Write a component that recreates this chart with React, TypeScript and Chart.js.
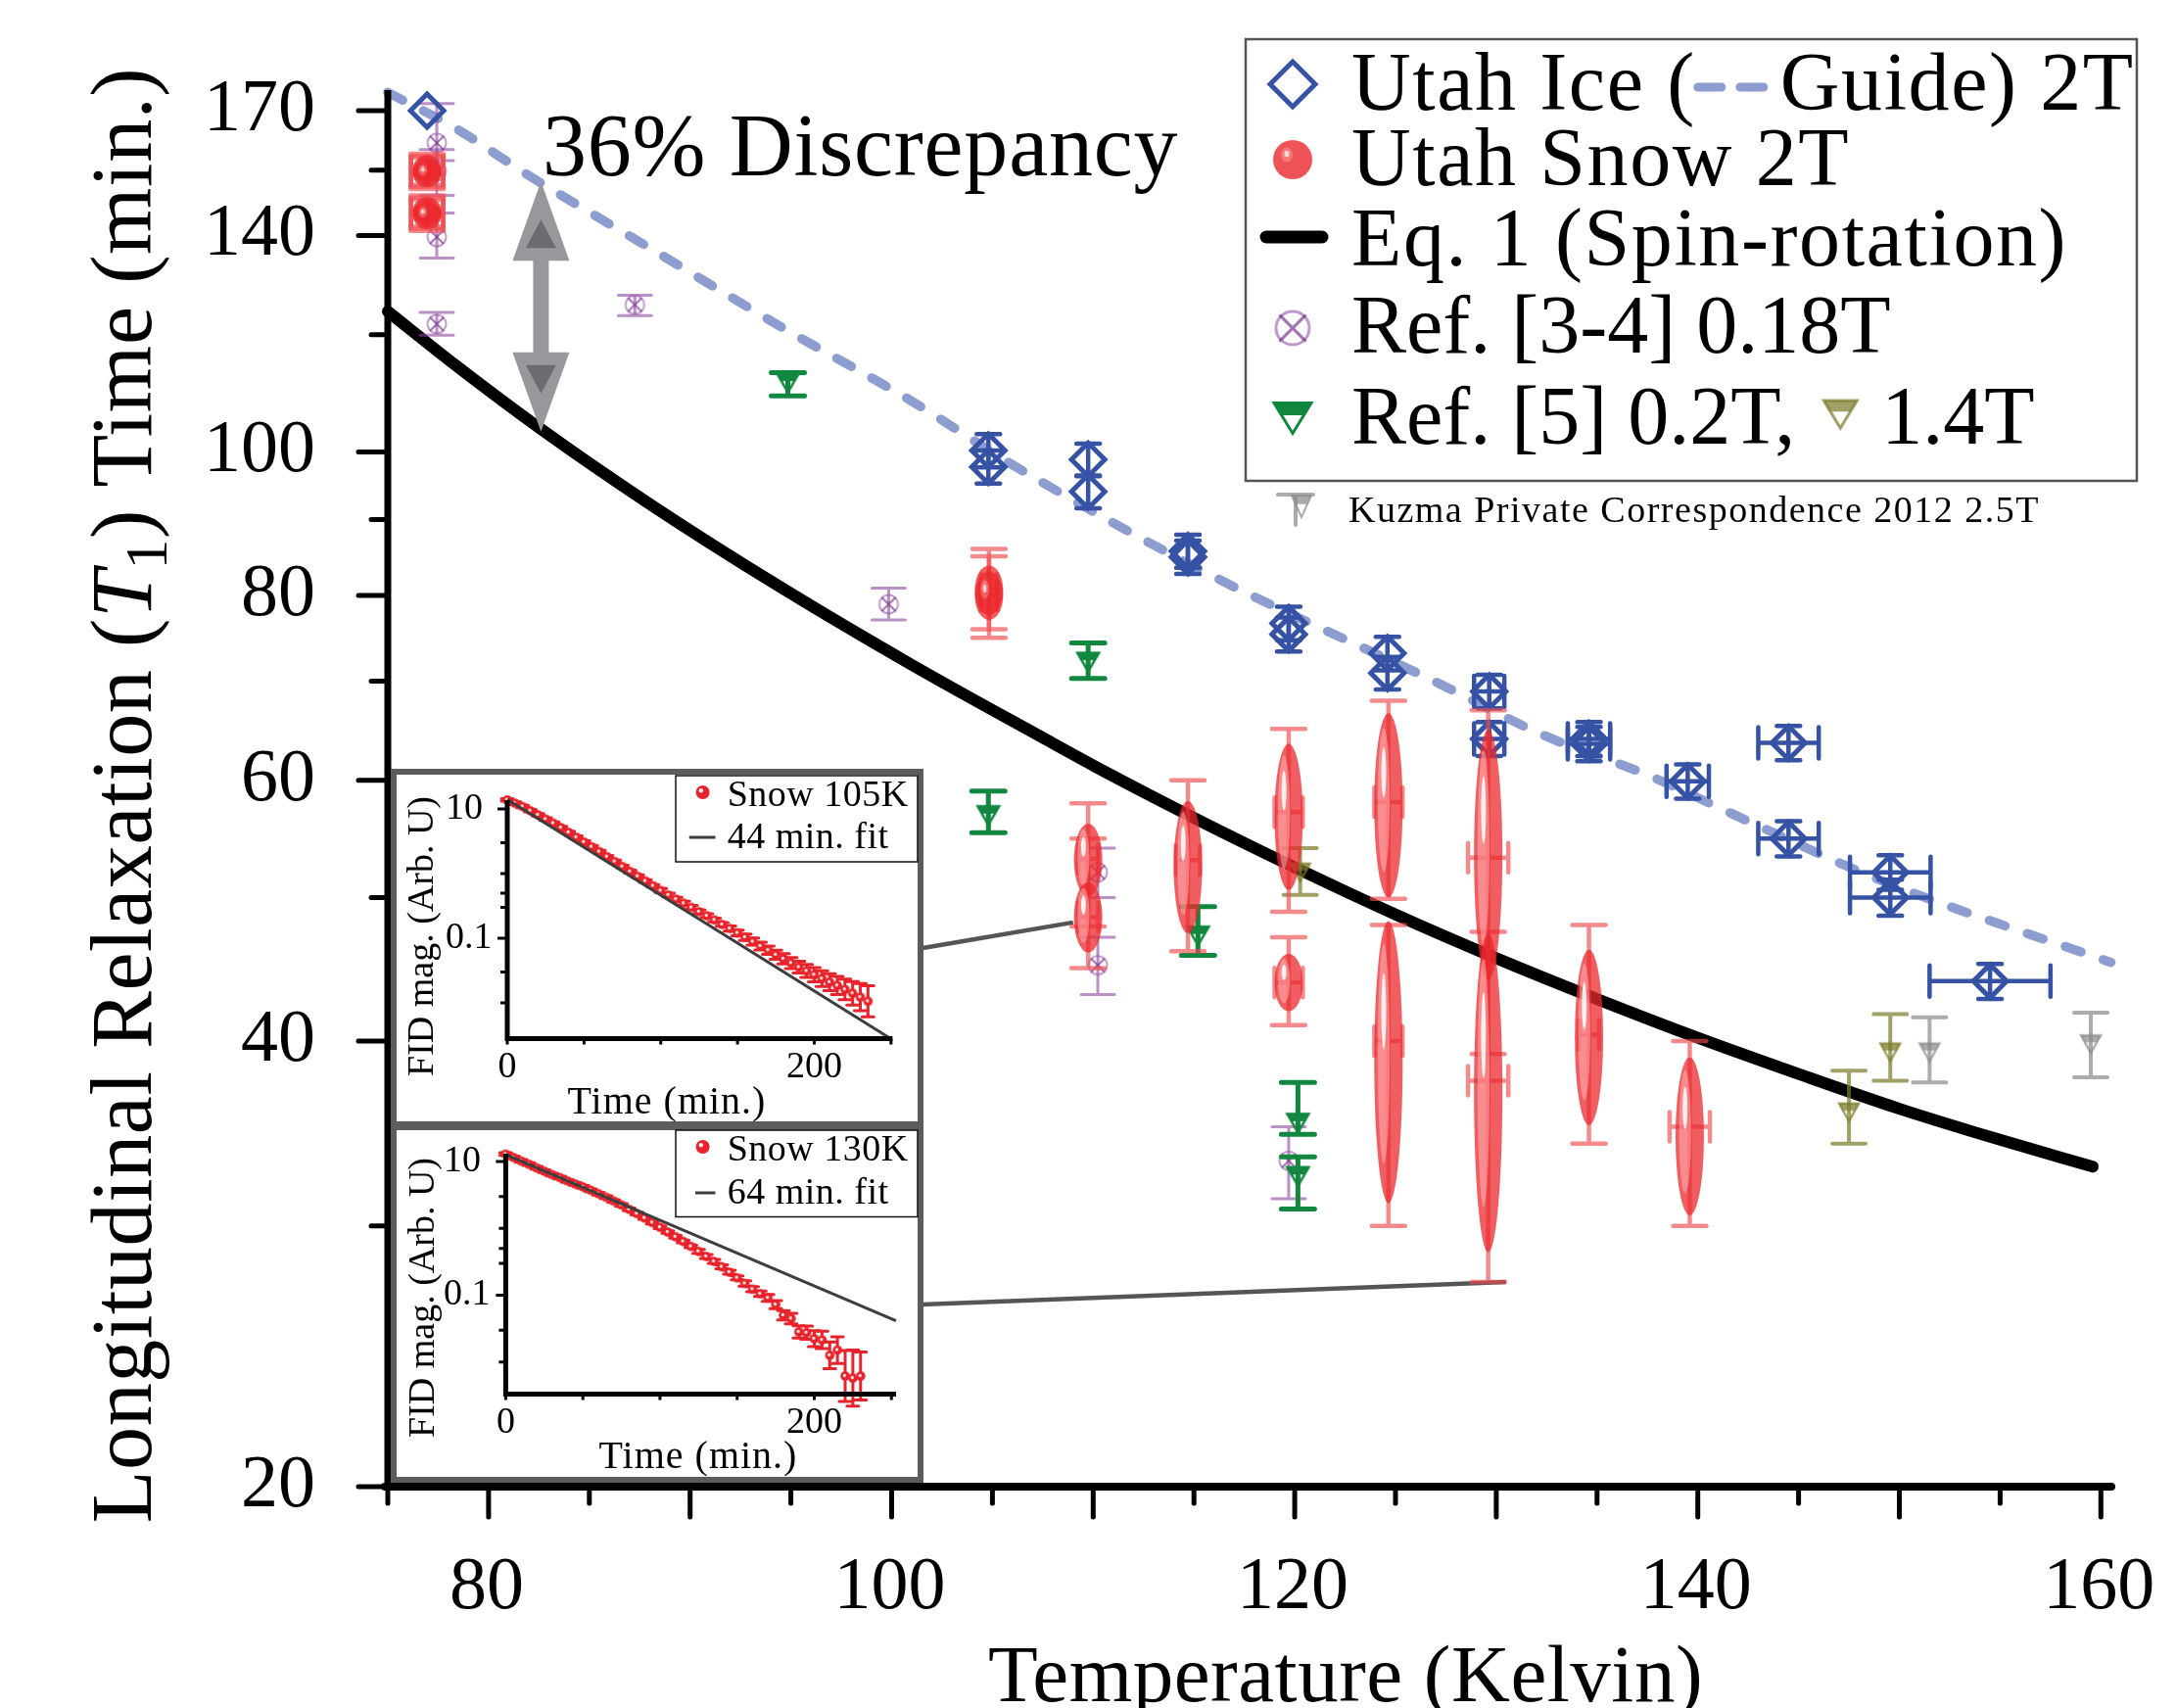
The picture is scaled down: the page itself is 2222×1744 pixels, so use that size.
import React, { useEffect, useRef } from 'react';
import { Chart, registerables } from 'chart.js';

Chart.register(...registerables);
if (typeof document !== 'undefined') {
  document.body.style.margin = '0';
  document.body.style.background = '#ffffff';
}

const W = 2222;
const H = 1744;
const SERIF = '"Liberation Serif", "DejaVu Serif", serif';

// ================= MAIN CHART DATA =================
// Utah Ice 2T (blue diamonds)
const iceTemp = [76.95, 104.8, 104.8, 109.75, 109.75, 114.7, 114.7, 119.7, 119.7, 124.6, 124.6, 129.65, 129.65, 134.6, 134.6, 139.5, 144.5, 144.5, 149.55, 149.55, 154.5];
const iceT1 = [170.0, 100.2, 97.7, 98.8, 94.0, 85.7, 84.9, 76.6, 75.3, 73.1, 70.9, 68.9, 64.0, 64.0, 63.5, 59.9, 63.6, 54.8, 52.0, 50.0, 43.9];
const iceT1Err = [0, 2.6, 2.5, 2.5, 2.4, 2.2, 2.2, 2.0, 2.0, 1.9, 1.8, 1.8, 1.7, 1.7, 1.7, 1.6, 1.7, 1.5, 1.4, 1.4, 1.2];
const iceTempErr = [0, 0, 0, 0, 0, 0, 0, 0, 0, 0, 0, 0.75, 0.75, 1.05, 1.05, 1.05, 1.5, 1.5, 2.0, 2.0, 3.0];

// Guide (dashed) through the ice data
const guideTemp = [75, 78.3, 82, 88, 94.5, 101, 106, 115.5, 127.2, 132.3, 137.5, 142.75, 149, 160.5];
const guideT1 = [174.9, 165.6, 153.7, 137.3, 121.5, 108.2, 98.0, 83.0, 69.7, 64.4, 60.5, 56.1, 51.4, 45.2];

// Eq. 1 (Spin-rotation)
const eq1Temp = [75, 78.26, 82.6, 88, 94.5, 101, 107.5, 110, 115, 120, 125, 130, 135, 140, 145, 150, 155, 159.6];
const eq1T1 = [124.4, 114.7, 103.6, 92.2, 81.0, 71.8, 64.1, 61.4, 56.6, 52.4, 48.7, 45.5, 42.7, 40.2, 38.0, 36.0, 34.3, 32.9];

// Utah Snow 2T (red ellipses)
const snowTemp = [76.95, 76.95, 76.95, 76.95, 76.95, 76.95, 104.83, 104.83, 109.75, 109.75, 114.7, 119.7, 119.7, 124.65, 124.65, 129.6, 129.6, 134.6, 139.6];
const snowT1 = [155.3, 154.7, 154.1, 145.6, 145.0, 144.4, 80.8, 80.0, 53.1, 48.5, 53.0, 57.1, 43.8, 58.0, 40.0, 53.2, 37.6, 40.4, 35.0];
const snowErrHi = [159.0, 158.5, 158.0, 149.0, 148.5, 148.0, 86.0, 85.0, 57.9, 54.8, 60.0, 65.0, 47.0, 67.9, 47.9, 66.9, 47.4, 47.9, 40.0];
const snowErrLo = [151.5, 151.0, 150.5, 142.0, 141.5, 141.0, 75.9, 74.9, 47.8, 44.8, 46.0, 48.9, 41.0, 49.9, 30.0, 39.2, 27.5, 34.1, 30.0];
const snowSpreadHi = [158.6, 158.0, 157.4, 148.6, 148.0, 147.4, 83.8, 83.0, 56.1, 51.2, 58.1, 63.5, 45.8, 66.6, 48.2, 64.9, 47.3, 46.1, 39.0];
const snowSpreadLo = [152.1, 151.5, 150.9, 142.6, 142.0, 141.4, 77.6, 77.0, 50.1, 45.9, 47.3, 50.6, 41.9, 50.0, 31.1, 44.0, 28.8, 35.1, 30.5];
const snowTempErr = [0.8, 0.8, 0.8, 0.8, 0.8, 0.8, 0.4, 0.4, 0.5, 0.5, 0.6, 0.7, 0.7, 0.7, 0.7, 1.0, 1.0, 0.5, 1.0];

// Ref. [3-4] 0.18T (purple)
const ref34Temp = [77.43, 77.43, 77.43, 77.43, 87.26, 99.85, 110.23, 110.23, 119.7];
const ref34T1 = [161.7, 154.7, 139.7, 122.0, 125.7, 78.9, 52.0, 45.0, 33.2];
const ref34Hi = [171.9, 160.0, 145.0, 124.2, 127.6, 80.9, 54.0, 47.0, 35.0];
const ref34Lo = [157.3, 149.0, 135.2, 119.9, 123.6, 77.0, 50.0, 43.0, 31.3];

// Ref. [5] 0.2T (green)
const ref5aTemp = [94.85, 104.8, 109.75, 115.2, 120.16, 120.16];
const ref5aT1 = [111.3, 56.8, 72.1, 47.1, 35.2, 32.4];
const ref5aHi = [113.1, 59.0, 74.3, 49.3, 37.5, 33.4];
const ref5aLo = [109.1, 55.3, 70.3, 45.7, 34.6, 30.8];

// Ref. [5] 1.4T (olive)
const ref5bTemp = [120.27, 147.5, 149.55];
const ref5bT1 = [52.0, 35.8, 39.3];
const ref5bHi = [54.0, 38.2, 41.7];
const ref5bLo = [50.2, 34.1, 37.6];

// Kuzma private correspondence 2.5T (gray)
const kuzmaTemp = [151.5, 159.5];
const kuzmaT1 = [39.3, 39.8];
const kuzmaHi = [41.5, 41.8];
const kuzmaLo = [37.5, 37.8];

// Leader lines from the insets to the data they show
const leader105Temp = [101.48, 109.0];
const leader105T1 = [46.2, 48.1];
const leader130Temp = [101.48, 130.49];
const leader130T1 = [26.55, 27.5];

// Discrepancy arrow
const arrowTemp = 82.6;
const arrowTopT1 = 152.3;
const arrowBottomT1 = 103.2;

// Axis ticks
const yMajorTicks = [20, 40, 60, 80, 100, 140, 170];
const yMinorTicks = [30, 50, 70, 90, 120, 155];
const xMajorTicks = [80, 90, 100, 110, 120, 130, 140, 150, 160];
const xMinorTicks = [75, 85, 95, 105, 115, 125, 135, 145, 155];
const xTickLabels = [80, 100, 120, 140, 160];

// ================= INSET DATA =================
const inset105Time = [0, 5, 10, 15, 20, 25, 30, 35, 40, 45, 50, 55, 60, 65, 70, 75, 80, 85, 90, 95, 100, 105, 110, 115, 120, 125, 130, 135, 140, 145, 150, 155, 160, 165, 170, 175, 180, 185, 190, 195, 200, 205, 210, 215, 220, 225, 230, 235];
const inset105Mag = [13.8, 12.3, 10.9, 9.40, 8.11, 6.98, 6.03, 5.14, 4.34, 3.66, 3.08, 2.60, 2.19, 1.83, 1.54, 1.29, 1.08, 0.912, 0.769, 0.649, 0.547, 0.467, 0.403, 0.348, 0.300, 0.258, 0.223, 0.192, 0.164, 0.142, 0.121, 0.104, 0.0889, 0.0759, 0.0655, 0.0557, 0.0481, 0.0415, 0.0358, 0.0313, 0.0273, 0.0238, 0.0210, 0.0186, 0.0162, 0.0141, 0.0123, 0.0106];
const inset105ErrDex = [0.02, 0.02, 0.02, 0.02, 0.02, 0.02, 0.02, 0.02, 0.02, 0.02, 0.02, 0.02, 0.02, 0.02, 0.02, 0.02, 0.02, 0.02, 0.02, 0.02, 0.03, 0.03, 0.03, 0.03, 0.03, 0.03, 0.03, 0.03, 0.03, 0.04, 0.045, 0.05, 0.055, 0.06, 0.065, 0.07, 0.08, 0.085, 0.09, 0.10, 0.11, 0.12, 0.13, 0.14, 0.16, 0.18, 0.21, 0.24];
const inset105FitTime = [0, 250];
const inset105FitMag = [14.1, 0.00279];

const inset130Time = [0, 5, 10, 15, 20, 25, 30, 35, 40, 45, 50, 55, 60, 65, 70, 75, 80, 85, 90, 95, 100, 105, 110, 115, 120, 125, 130, 135, 140, 145, 150, 155, 160, 165, 170, 175, 180, 185, 190, 195, 200, 205, 210, 215, 220, 225, 230];
const inset130Mag = [12.9, 11.5, 10.2, 9.12, 8.04, 7.16, 6.38, 5.75, 5.13, 4.62, 4.17, 3.72, 3.31, 2.92, 2.57, 2.24, 1.93, 1.66, 1.43, 1.22, 1.04, 0.881, 0.750, 0.638, 0.537, 0.452, 0.380, 0.320, 0.266, 0.221, 0.182, 0.150, 0.123, 0.105, 0.0912, 0.0724, 0.0501, 0.0447, 0.0282, 0.0275, 0.0224, 0.0214, 0.0126, 0.0151, 0.00617, 0.00575, 0.00617];
const inset130ErrDex = [0.02, 0.02, 0.02, 0.02, 0.02, 0.02, 0.02, 0.02, 0.02, 0.02, 0.02, 0.02, 0.02, 0.02, 0.02, 0.02, 0.02, 0.02, 0.02, 0.02, 0.02, 0.02, 0.02, 0.02, 0.02, 0.03, 0.03, 0.03, 0.03, 0.03, 0.03, 0.04, 0.04, 0.04, 0.05, 0.06, 0.07, 0.08, 0.09, 0.10, 0.12, 0.13, 0.20, 0.20, 0.38, 0.42, 0.36];
const inset130FitTime = [0, 253];
const inset130FitMag = [12.7, 0.0415];

const insetXTicks = [0, 50, 100, 150, 200, 250];
const insetXTickLabels = [0, 200];
const insetYTicks = [10, 3, 1, 0.5, 0.3, 0.1, 0.03, 0.01];
const insetYTickLabels = [10, 0.1];

// ================= COLOURS =================
const BLUE = '#3652a5';
const GUIDE = '#8d9dd0';
const GREEN = '#12873f';
const OLIVE = 'rgba(125, 125, 45, 0.72)';
const GRAY = 'rgba(140, 140, 140, 0.72)';
const PURPLE_RING = 'rgba(150, 85, 170, 0.6)';
const PURPLE_X = 'rgba(115, 40, 135, 0.65)';
const PURPLE_BAR = 'rgba(140, 70, 160, 0.6)';
const RED_BAR = 'rgba(240, 75, 80, 0.65)';
const INSET_RED = '#e8232b';

// ================= DRAW HELPERS =================
function pts(xs: number[], ys: number[]) {
  return xs.map((x, i) => ({ x, y: ys[i] }));
}

function makeMarker(w: number, h: number, draw: (c: CanvasRenderingContext2D, x: number, y: number) => void) {
  const c = document.createElement('canvas');
  c.width = w;
  c.height = h;
  const ctx = c.getContext('2d') as CanvasRenderingContext2D;
  draw(ctx, w / 2, h / 2);
  return c;
}

function setSpacing(ctx: any, px: number) {
  if ('letterSpacing' in ctx) ctx.letterSpacing = `${px}px`;
}

function drawDownTriangle(ctx: CanvasRenderingContext2D, x: number, y: number, w: number, h: number, color: string, lw: number) {
  const top = y - h / 2;
  const bot = y + h / 2;
  ctx.save();
  ctx.lineJoin = 'miter';
  ctx.strokeStyle = color;
  ctx.fillStyle = color;
  ctx.lineWidth = lw;
  ctx.beginPath();
  ctx.moveTo(x - w / 2, top);
  ctx.lineTo(x + w / 2, top);
  ctx.lineTo(x, bot);
  ctx.closePath();
  ctx.stroke();
  const f = 0.4;
  const yb = top + h * f;
  const hw = (w / 2) * (1 - f);
  ctx.beginPath();
  ctx.moveTo(x - w / 2, top);
  ctx.lineTo(x + w / 2, top);
  ctx.lineTo(x + hw, yb);
  ctx.lineTo(x - hw, yb);
  ctx.closePath();
  ctx.fill();
  ctx.restore();
}

function drawCrossCircle(ctx: CanvasRenderingContext2D, x: number, y: number, r: number, ring: string, cross: string, lw: number) {
  ctx.save();
  ctx.lineWidth = lw;
  ctx.strokeStyle = ring;
  ctx.beginPath();
  ctx.arc(x, y, r, 0, Math.PI * 2);
  ctx.stroke();
  const d = r * 0.74;
  ctx.strokeStyle = cross;
  ctx.beginPath();
  ctx.moveTo(x - d, y - d);
  ctx.lineTo(x + d, y + d);
  ctx.moveTo(x + d, y - d);
  ctx.lineTo(x - d, y + d);
  ctx.stroke();
  ctx.restore();
}

function drawGlossy(ctx: CanvasRenderingContext2D, cx: number, cy: number, rx: number, ry: number, alpha: number) {
  const small = ry < 26;
  ctx.save();
  ctx.beginPath();
  ctx.ellipse(cx, cy, rx, ry, 0, 0, Math.PI * 2);
  ctx.fillStyle = `rgba(235, 40, 45, ${alpha})`;
  ctx.fill();
  if (small) {
    ctx.beginPath();
    ctx.ellipse(cx - rx * 0.3, cy - ry * 0.25, rx * 0.3, ry * 0.38, 0, 0, Math.PI * 2);
    ctx.fillStyle = 'rgba(255, 185, 185, 0.35)';
    ctx.fill();
    ctx.beginPath();
    ctx.ellipse(cx - rx * 0.3, cy - ry * 0.3, rx * 0.13, ry * 0.16, 0, 0, Math.PI * 2);
    ctx.fillStyle = 'rgba(255, 255, 255, 0.7)';
    ctx.fill();
  } else {
    ctx.beginPath();
    ctx.ellipse(cx - rx * 0.33, cy - ry * 0.06, rx * 0.42, ry * 0.78, 0, 0, Math.PI * 2);
    ctx.fillStyle = 'rgba(255, 185, 185, 0.5)';
    ctx.fill();
    ctx.beginPath();
    ctx.ellipse(cx - rx * 0.33, cy - ry * 0.36, rx * 0.17, ry * 0.27, 0, 0, Math.PI * 2);
    ctx.fillStyle = 'rgba(255, 255, 255, 0.85)';
    ctx.fill();
  }
  ctx.restore();
}

function seg(ctx: CanvasRenderingContext2D, x1: number, y1: number, x2: number, y2: number) {
  ctx.moveTo(x1, y1);
  ctx.lineTo(x2, y2);
}

// ================= PLUGINS =================
const errorBars = {
  id: 'errorBars',
  beforeDatasetDraw(chart: any, args: any) {
    const ds = chart.data.datasets[args.index];
    const eb = ds.eb;
    if (!eb) return;
    const xs = chart.scales.x;
    const ys = chart.scales.y;
    const ctx = chart.ctx as CanvasRenderingContext2D;
    ctx.save();
    ctx.strokeStyle = eb.color;
    ctx.lineWidth = eb.width;
    ctx.lineCap = 'round';
    ds.data.forEach((p: any, i: number) => {
      const px = xs.getPixelForValue(p.x);
      const py = ys.getPixelForValue(p.y);
      let hi: number | null = null;
      let lo: number | null = null;
      if (eb.hi) {
        hi = eb.hi[i];
        lo = eb.lo[i];
      } else if (eb.abs && eb.abs[i] > 0) {
        hi = p.y + eb.abs[i];
        lo = p.y - eb.abs[i];
      } else if (eb.dex) {
        hi = p.y * Math.pow(10, eb.dex[i]);
        lo = p.y / Math.pow(10, eb.dex[i]);
      }
      ctx.beginPath();
      if (hi !== null && lo !== null) {
        const yt = ys.getPixelForValue(hi);
        const yb = ys.getPixelForValue(lo);
        seg(ctx, px, yt, px, yb);
        seg(ctx, px - eb.cap, yt, px + eb.cap, yt);
        seg(ctx, px - eb.cap, yb, px + eb.cap, yb);
      }
      if (eb.xerr && eb.xerr[i] > 0) {
        const xl = xs.getPixelForValue(p.x - eb.xerr[i]);
        const xr = xs.getPixelForValue(p.x + eb.xerr[i]);
        seg(ctx, xl, py, xr, py);
        seg(ctx, xl, py - eb.xcap, xl, py + eb.xcap);
        seg(ctx, xr, py - eb.xcap, xr, py + eb.xcap);
      }
      ctx.stroke();
    });
    ctx.restore();
  },
  afterDatasetDraw(chart: any, args: any) {
    const ds = chart.data.datasets[args.index];
    if (!ds.snow) return;
    const xs = chart.scales.x;
    const ys = chart.scales.y;
    const ctx = chart.ctx as CanvasRenderingContext2D;
    ds.data.forEach((p: any, i: number) => {
      const px = xs.getPixelForValue(p.x);
      const yt = ys.getPixelForValue(ds.spreadHi[i]);
      const yb = ys.getPixelForValue(ds.spreadLo[i]);
      drawGlossy(ctx, px, (yt + yb) / 2, 14.5, (yb - yt) / 2, 0.75);
    });
  },
};

function drawYTitle(ctx: CanvasRenderingContext2D) {
  const f = 88;
  const parts = [
    { t: 'Longitudinal Relaxation (', font: `${f}px ${SERIF}`, dy: 0 },
    { t: 'T', font: `italic ${f}px ${SERIF}`, dy: 0 },
    { t: '1', font: `${Math.round(f * 0.7)}px ${SERIF}`, dy: f * 0.18 },
    { t: ') Time (min.)', font: `${f}px ${SERIF}`, dy: 0 },
  ];
  ctx.save();
  setSpacing(ctx, 0.6);
  ctx.translate(154, 812);
  ctx.rotate(-Math.PI / 2);
  let total = 0;
  const widths = parts.map((p) => {
    ctx.font = p.font;
    const w = ctx.measureText(p.t).width;
    total += w;
    return w;
  });
  let x = -total / 2;
  ctx.fillStyle = '#000';
  ctx.textBaseline = 'alphabetic';
  ctx.textAlign = 'left';
  parts.forEach((p, i) => {
    ctx.font = p.font;
    ctx.fillText(p.t, x, p.dy);
    x += widths[i];
  });
  ctx.restore();
}

const mainDecor = {
  id: 'mainDecor',
  afterDatasetsDraw(chart: any) {
    const ctx = chart.ctx as CanvasRenderingContext2D;
    const xs = chart.scales.x;
    const ys = chart.scales.y;
    const ax = xs.getPixelForValue(arrowTemp);
    const yTop = ys.getPixelForValue(arrowTopT1);
    const yBot = ys.getPixelForValue(arrowBottomT1);
    const headL = 81;
    const headW = 29;
    const shaft = 8;
    ctx.save();
    ctx.fillStyle = '#98989c';
    ctx.fillRect(ax - shaft, yTop + headL - 2, shaft * 2, yBot - yTop - 2 * headL + 4);
    const tri = (x1: number, y1: number, x2: number, y2: number, x3: number, y3: number) => {
      ctx.beginPath();
      ctx.moveTo(x1, y1);
      ctx.lineTo(x2, y2);
      ctx.lineTo(x3, y3);
      ctx.closePath();
      ctx.fill();
    };
    tri(ax, yTop, ax - headW, yTop + headL, ax + headW, yTop + headL);
    tri(ax, yBot, ax - headW, yBot - headL, ax + headW, yBot - headL);
    ctx.fillStyle = '#6c6c70';
    tri(ax, yTop + 39, ax - 15.5, yTop + 68, ax + 15.5, yTop + 68);
    tri(ax, yBot - 39, ax - 15.5, yBot - 68, ax + 15.5, yBot - 68);
    ctx.restore();
  },
  afterDraw(chart: any) {
    const ctx = chart.ctx as CanvasRenderingContext2D;
    const ca = chart.chartArea;
    const xs = chart.scales.x;
    const ys = chart.scales.y;
    ctx.save();
    ctx.strokeStyle = '#000';
    ctx.fillStyle = '#000';
    // axes
    ctx.lineWidth = 7;
    ctx.lineCap = 'butt';
    ctx.beginPath();
    seg(ctx, ca.left, ca.top - 2, ca.left, ca.bottom + 3);
    ctx.stroke();
    ctx.lineWidth = 8;
    ctx.lineCap = 'round';
    ctx.beginPath();
    seg(ctx, ca.left - 3, ca.bottom, ca.right, ca.bottom);
    ctx.stroke();
    // ticks
    ctx.lineWidth = 5;
    ctx.beginPath();
    yMajorTicks.forEach((v) => {
      const y = ys.getPixelForValue(v);
      seg(ctx, ca.left - 30, y, ca.left, y);
    });
    yMinorTicks.forEach((v) => {
      const y = ys.getPixelForValue(v);
      seg(ctx, ca.left - 17, y, ca.left, y);
    });
    xMajorTicks.forEach((v) => {
      const x = xs.getPixelForValue(v);
      seg(ctx, x, ca.bottom, x, ca.bottom + 31);
    });
    xMinorTicks.forEach((v) => {
      const x = xs.getPixelForValue(v);
      seg(ctx, x, ca.bottom, x, ca.bottom + 17);
    });
    ctx.stroke();
    // tick labels
    ctx.font = `76px ${SERIF}`;
    ctx.textAlign = 'right';
    ctx.textBaseline = 'middle';
    yMajorTicks.forEach((v) => ctx.fillText(String(v), 322, ys.getPixelForValue(v)));
    ctx.textAlign = 'center';
    ctx.textBaseline = 'alphabetic';
    xTickLabels.forEach((v) => ctx.fillText(String(v), xs.getPixelForValue(v) - 2, 1642));
    // axis titles
    ctx.font = `83px ${SERIF}`;
    setSpacing(ctx, 0.5);
    ctx.fillText('Temperature (Kelvin)', 1374, 1737);
    setSpacing(ctx, 0);
    drawYTitle(ctx);
    // annotation
    ctx.textAlign = 'left';
    ctx.font = `90px ${SERIF}`;
    setSpacing(ctx, 0.8);
    ctx.fillText('36% Discrepancy', 554, 179);
    setSpacing(ctx, 0);

    // legend box
    ctx.fillStyle = '#fff';
    ctx.fillRect(1272, 40, 910, 451);
    ctx.strokeStyle = '#555';
    ctx.lineWidth = 2.5;
    ctx.strokeRect(1272, 40, 910, 451);
    ctx.fillStyle = '#000';
    ctx.font = `84px ${SERIF}`;
    setSpacing(ctx, 1.6);
    // row 1
    ctx.save();
    ctx.strokeStyle = BLUE;
    ctx.lineWidth = 5;
    ctx.beginPath();
    ctx.moveTo(1320, 86 - 23);
    ctx.lineTo(1320 + 23, 86);
    ctx.lineTo(1320, 86 + 23);
    ctx.lineTo(1320 - 23, 86);
    ctx.closePath();
    ctx.stroke();
    ctx.restore();
    const t1a = 'Utah Ice (';
    ctx.fillText(t1a, 1380, 112);
    const d0 = 1380 + ctx.measureText(t1a).width - 2;
    ctx.save();
    ctx.strokeStyle = GUIDE;
    ctx.lineWidth = 9;
    ctx.lineCap = 'round';
    ctx.beginPath();
    seg(ctx, d0 + 4, 89, d0 + 28, 89);
    seg(ctx, d0 + 47, 89, d0 + 71, 89);
    ctx.stroke();
    ctx.restore();
    ctx.fillText('Guide) 2T', d0 + 88, 112);
    // row 2
    drawGlossy(ctx, 1320, 163, 20, 20, 0.8);
    ctx.fillStyle = '#000';
    ctx.fillText('Utah Snow 2T', 1380, 189);
    // row 3
    ctx.save();
    ctx.strokeStyle = '#000';
    ctx.lineWidth = 13;
    ctx.beginPath();
    seg(ctx, 1293, 242, 1350, 242);
    ctx.stroke();
    ctx.restore();
    ctx.fillText('Eq. 1 (Spin-rotation)', 1380, 271);
    // rows 4-5 use tighter spacing
    setSpacing(ctx, 0);
    // row 4
    drawCrossCircle(ctx, 1320, 335, 17, PURPLE_RING, PURPLE_X, 3);
    ctx.fillStyle = '#000';
    ctx.fillText('Ref. [3-4] 0.18T', 1380, 360);
    // row 5
    drawDownTriangle(ctx, 1320, 427, 38, 31, GREEN, 3);
    ctx.fillStyle = '#000';
    const t5 = 'Ref. [5] 0.2T,';
    ctx.fillText(t5, 1380, 453);
    const e5 = 1380 + ctx.measureText(t5).width;
    drawDownTriangle(ctx, e5 + 46, 423, 34, 28, OLIVE, 3);
    ctx.fillStyle = '#000';
    ctx.fillText('1.4T', e5 + 88, 453);
    // Kuzma note
    ctx.save();
    ctx.strokeStyle = GRAY;
    ctx.lineWidth = 4;
    ctx.beginPath();
    seg(ctx, 1305, 505, 1341, 505);
    seg(ctx, 1323, 505, 1323, 536);
    ctx.stroke();
    ctx.restore();
    drawDownTriangle(ctx, 1329, 517, 20, 22, GRAY, 2);
    ctx.fillStyle = '#000';
    ctx.font = `38px ${SERIF}`;
    setSpacing(ctx, 1.5);
    ctx.fillText('Kuzma Private Correspondence 2012 2.5T', 1377, 533);
    setSpacing(ctx, 0);
    ctx.restore();
  },
};

function insetDecor(cfg: any) {
  return {
    id: 'insetDecor',
    beforeDraw(chart: any) {
      const ctx = chart.ctx as CanvasRenderingContext2D;
      ctx.save();
      ctx.fillStyle = '#fff';
      ctx.fillRect(0, 0, chart.width, chart.height);
      ctx.restore();
    },
    afterDraw(chart: any) {
      const ctx = chart.ctx as CanvasRenderingContext2D;
      const ca = chart.chartArea;
      const xs = chart.scales.x;
      const ys = chart.scales.y;
      ctx.save();
      // frame
      ctx.strokeStyle = '#5c5c5c';
      ctx.lineWidth = 6;
      ctx.strokeRect(3, 3, chart.width - 6, chart.height - 6);
      // axes
      ctx.strokeStyle = '#000';
      ctx.lineWidth = 5;
      ctx.beginPath();
      seg(ctx, ca.left, ca.top, ca.left, ca.bottom + 2.5);
      seg(ctx, ca.left - 2.5, ca.bottom, ca.right, ca.bottom);
      ctx.stroke();
      ctx.lineWidth = 3;
      ctx.beginPath();
      insetXTicks.forEach((v) => {
        const x = xs.getPixelForValue(v);
        seg(ctx, x, ca.bottom, x, ca.bottom + 6);
      });
      insetYTicks.forEach((v) => {
        const y = ys.getPixelForValue(v);
        const len = insetYTickLabels.indexOf(v) >= 0 ? 10 : 7;
        seg(ctx, ca.left - len, y, ca.left, y);
      });
      ctx.stroke();
      // tick labels
      ctx.fillStyle = '#000';
      ctx.font = `38px ${SERIF}`;
      ctx.textAlign = 'left';
      ctx.textBaseline = 'middle';
      insetYTickLabels.forEach((v) => ctx.fillText(String(v), cfg.yLabelX, ys.getPixelForValue(v)));
      ctx.textAlign = 'center';
      ctx.textBaseline = 'alphabetic';
      insetXTickLabels.forEach((v) => ctx.fillText(String(v), xs.getPixelForValue(v), 315));
      // titles
      ctx.font = `40px ${SERIF}`;
      setSpacing(ctx, 1);
      ctx.fillText('Time (min.)', cfg.timeX, cfg.timeY);
      setSpacing(ctx, 0);
      ctx.save();
      ctx.translate(cfg.fidX, cfg.fidY);
      ctx.rotate(-Math.PI / 2);
      ctx.font = `38px ${SERIF}`;
      ctx.fillText('FID mag. (Arb. U)', 0, 0);
      ctx.restore();
      // legend
      const [bx, by, bw, bh] = cfg.legendBox;
      ctx.fillStyle = '#fff';
      ctx.fillRect(bx, by, bw, bh);
      ctx.strokeStyle = '#111';
      ctx.lineWidth = 1.5;
      ctx.strokeRect(bx, by, bw, bh);
      ctx.fillStyle = INSET_RED;
      ctx.beginPath();
      ctx.arc(318.6, cfg.dotY, 7, 0, Math.PI * 2);
      ctx.fill();
      ctx.fillStyle = 'rgba(255,255,255,0.9)';
      ctx.beginPath();
      ctx.arc(316.8, cfg.dotY - 1.8, 2.2, 0, Math.PI * 2);
      ctx.fill();
      ctx.fillStyle = '#000';
      ctx.textAlign = 'left';
      ctx.font = `38px ${SERIF}`;
      setSpacing(ctx, 0.5);
      ctx.fillText(cfg.label1, 343.7, cfg.text1Y);
      ctx.fillText(cfg.label2, 343.7, 80.6);
      setSpacing(ctx, 0);
      ctx.strokeStyle = '#3d3d3d';
      ctx.lineWidth = 3;
      ctx.beginPath();
      seg(ctx, cfg.dash[0], 70, cfg.dash[1], 70);
      ctx.stroke();
      ctx.restore();
    },
  };
}

function buildMain(canvas: HTMLCanvasElement) {
  const purpleMarker = makeMarker(26, 26, (c, x, y) => drawCrossCircle(c, x, y, 9.5, PURPLE_RING, PURPLE_X, 2));
  const greenMarker = makeMarker(30, 28, (c, x, y) => drawDownTriangle(c, x, y, 22, 19, GREEN, 2.5));
  const oliveMarker = makeMarker(30, 28, (c, x, y) => drawDownTriangle(c, x, y, 20, 18, OLIVE, 2.5));
  const grayMarker = makeMarker(30, 28, (c, x, y) => drawDownTriangle(c, x, y, 20, 18, GRAY, 2.5));

  const datasets: any[] = [
    {
      label: 'Utah Snow 2T',
      data: pts(snowTemp, snowT1),
      pointRadius: 0,
      order: 0,
      clip: false,
      snow: true,
      spreadHi: snowSpreadHi,
      spreadLo: snowSpreadLo,
      eb: { hi: snowErrHi, lo: snowErrLo, xerr: snowTempErr, color: RED_BAR, width: 4.5, cap: 17, xcap: 15 },
    },
    {
      label: 'Utah Ice 2T',
      data: pts(iceTemp, iceT1),
      pointStyle: 'rectRot',
      pointRadius: 17,
      pointBorderWidth: 5,
      pointBorderColor: BLUE,
      pointBackgroundColor: 'rgba(255,255,255,0)',
      order: 1,
      clip: false,
      eb: { abs: iceT1Err, xerr: iceTempErr, color: BLUE, width: 4.5, cap: 12, xcap: 16 },
    },
    {
      label: 'Kuzma 2.5T',
      data: pts(kuzmaTemp, kuzmaT1),
      pointStyle: grayMarker,
      pointRadius: 10,
      order: 2,
      clip: false,
      eb: { hi: kuzmaHi, lo: kuzmaLo, color: GRAY, width: 4, cap: 17 },
    },
    {
      label: 'Ref. [5] 1.4T',
      data: pts(ref5bTemp, ref5bT1),
      pointStyle: oliveMarker,
      pointRadius: 10,
      order: 3,
      clip: false,
      eb: { hi: ref5bHi, lo: ref5bLo, color: OLIVE, width: 4, cap: 17 },
    },
    {
      label: 'Ref. [5] 0.2T',
      data: pts(ref5aTemp, ref5aT1),
      pointStyle: greenMarker,
      pointRadius: 10,
      order: 4,
      clip: false,
      eb: { hi: ref5aHi, lo: ref5aLo, color: GREEN, width: 5, cap: 17 },
    },
    {
      label: 'Ref. [3-4] 0.18T',
      data: pts(ref34Temp, ref34T1),
      pointStyle: purpleMarker,
      pointRadius: 10,
      order: 5,
      clip: false,
      eb: { hi: ref34Hi, lo: ref34Lo, color: PURPLE_BAR, width: 3, cap: 17 },
    },
    {
      label: 'leader 105K',
      data: pts(leader105Temp, leader105T1),
      showLine: true,
      pointRadius: 0,
      borderColor: '#555555',
      borderWidth: 4.5,
      order: 6,
      clip: false,
    },
    {
      label: 'leader 130K',
      data: pts(leader130Temp, leader130T1),
      showLine: true,
      pointRadius: 0,
      borderColor: '#555555',
      borderWidth: 4.5,
      order: 6,
      clip: false,
    },
    {
      label: 'Eq. 1 (Spin-rotation)',
      data: pts(eq1Temp, eq1T1),
      showLine: true,
      pointRadius: 0,
      borderColor: '#000000',
      borderWidth: 12,
      borderCapStyle: 'round',
      cubicInterpolationMode: 'monotone',
      order: 7,
      clip: false,
    },
    {
      label: 'Guide',
      data: pts(guideTemp, guideT1),
      showLine: true,
      pointRadius: 0,
      borderColor: GUIDE,
      borderWidth: 9.5,
      borderDash: [17, 24],
      borderCapStyle: 'round',
      cubicInterpolationMode: 'monotone',
      order: 8,
      clip: false,
    },
  ];

  return new Chart(canvas, {
    type: 'scatter',
    data: { datasets },
    options: {
      animation: false,
      responsive: false,
      devicePixelRatio: 1,
      events: [],
      layout: { padding: { left: 396, top: 94, right: 66, bottom: 226 } },
      scales: {
        x: { type: 'linear', min: 75, max: 160.52, display: false },
        y: { type: 'logarithmic', min: 20, max: 175, display: false },
      },
      plugins: { legend: { display: false }, tooltip: { enabled: false } },
    } as any,
    plugins: [errorBars, mainDecor] as any,
  });
}

function buildInset(canvas: HTMLCanvasElement, cfg: any) {
  const redDot = makeMarker(12, 12, (c, x, y) => {
    c.fillStyle = INSET_RED;
    c.beginPath();
    c.arc(x, y, 4.8, 0, Math.PI * 2);
    c.fill();
    c.fillStyle = 'rgba(255,255,255,0.9)';
    c.beginPath();
    c.arc(x - 0.6, y - 0.6, 1.6, 0, Math.PI * 2);
    c.fill();
  });
  return new Chart(canvas, {
    type: 'scatter',
    data: {
      datasets: [
        {
          data: pts(cfg.fitTime, cfg.fitMag),
          showLine: true,
          pointRadius: 0,
          borderColor: '#3d3d3d',
          borderWidth: 3,
          order: 0,
          clip: false,
        },
        {
          data: pts(cfg.time, cfg.mag),
          pointStyle: redDot,
          pointRadius: 5,
          order: 1,
          clip: false,
          eb: { dex: cfg.err, color: INSET_RED, width: 3, cap: 6 },
        },
      ] as any,
    },
    options: {
      animation: false,
      responsive: false,
      devicePixelRatio: 1,
      events: [],
      layout: { padding: cfg.padding },
      scales: {
        x: { type: 'linear', min: 0, max: cfg.xMax, display: false },
        y: { type: 'logarithmic', min: cfg.yMin, max: cfg.yMax, display: false },
      },
      plugins: { legend: { display: false }, tooltip: { enabled: false } },
    } as any,
    plugins: [errorBars, insetDecor(cfg)] as any,
  });
}

export default function App() {
  const mainRef = useRef<HTMLCanvasElement>(null);
  const in1Ref = useRef<HTMLCanvasElement>(null);
  const in2Ref = useRef<HTMLCanvasElement>(null);

  useEffect(() => {
    document.body.style.margin = '0';
    const charts: Chart[] = [];
    if (mainRef.current) charts.push(buildMain(mainRef.current));
    if (in1Ref.current)
      charts.push(
        buildInset(in1Ref.current, {
          time: inset105Time,
          mag: inset105Mag,
          err: inset105ErrDex,
          fitTime: inset105FitTime,
          fitMag: inset105FitMag,
          padding: { left: 119, top: 32, right: 31.6, bottom: 90.4 },
          xMax: 251,
          yMin: 0.0028,
          yMax: 13.7,
          yLabelX: 56,
          timeX: 282,
          timeY: 352,
          fidX: 43,
          fidY: 171,
          legendBox: [291, 7, 247, 88],
          dotY: 24,
          text1Y: 38,
          dash: [304.7, 331.5],
          label1: 'Snow 105K',
          label2: '44 min. fit',
        })
      );
    if (in2Ref.current)
      charts.push(
        buildInset(in2Ref.current, {
          time: inset130Time,
          mag: inset130Mag,
          err: inset130ErrDex,
          fitTime: inset130FitTime,
          fitMag: inset130FitMag,
          padding: { left: 117.4, top: 30, right: 28, bottom: 90.4 },
          xMax: 253,
          yMin: 0.0033,
          yMax: 13.1,
          yLabelX: 54,
          timeX: 314,
          timeY: 351,
          fidX: 44,
          fidY: 177,
          legendBox: [291, 6, 247, 88.5],
          dotY: 23,
          text1Y: 37,
          dash: [311, 331.5],
          label1: 'Snow 130K',
          label2: '64 min. fit',
        })
      );
    return () => charts.forEach((c) => c.destroy());
  }, []);

  return (
    <div style={{ position: 'relative', width: W, height: H, background: '#ffffff', overflow: 'hidden' }}>
      <canvas ref={mainRef} width={W} height={H} style={{ position: 'absolute', left: 0, top: 0, width: W, height: H }} />
      <canvas ref={in1Ref} width={544} height={366} style={{ position: 'absolute', left: 399, top: 785, width: 544, height: 366 }} />
      <canvas ref={in2Ref} width={544} height={366} style={{ position: 'absolute', left: 399, top: 1148, width: 544, height: 366 }} />
    </div>
  );
}
